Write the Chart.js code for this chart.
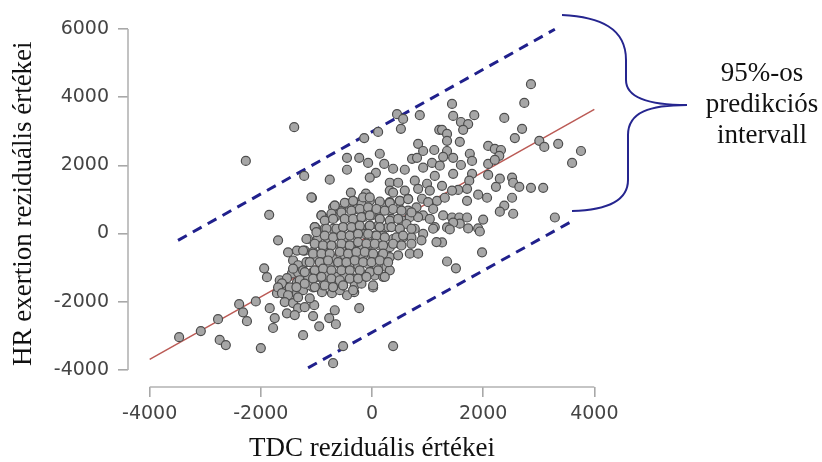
<!DOCTYPE html>
<html>
<head>
<meta charset="utf-8">
<script src="https://cdn.jsdelivr.net/npm/chart.js@4.4.1/dist/chart.umd.min.js"></script>
<style>
  html, body { margin: 0; padding: 0; background: #fff; }
  #wrap { position: relative; width: 822px; height: 462px; overflow: hidden; }
  #brace { position: absolute; left: 0; top: 0; pointer-events: none; }
  #note {
    position: absolute; left: 662px; top: 57px; width: 200px; text-align: center;
    font: 27px/31px "Liberation Serif", "Times New Roman", serif; color: #111;
  }
</style>
</head>
<body>
<div id="wrap">
  <canvas id="chart" width="822" height="462"></canvas>
  <svg id="brace" width="822" height="462">
    <path d="M562,15 C600,17 626,28 626,60 L626,80 C626,98 650,105 687,105 C650,105 628,112 628,135 L628,180 C628,200 610,210 572,211"
          fill="none" stroke="#25258f" stroke-width="2"/>
  </svg>
  <div id="note">95%-os<br>predikciós<br>intervall</div>
</div>
<script>
// residual pairs: [TDC residual, HR exertion residual]
const residuals = [
  [-3470,-3040],[-3080,-2860],[-2770,-2510],[-2740,-3120],[-2630,-3270],[-2390,-2070],
  [-2320,-2310],[-2250,-2570],[-2090,-1990],[-2000,-3360],[-1940,-1020],[-1890,-1280],
  [-1840,-2190],[-1750,-2480],[-1780,-2770],[-1690,-200],[-1530,-2340],[-1660,-1370],
  [-1620,-1580],[-1710,-1750],
  [-1510,-550],[-1350,-500],[-1420,-790],[-1330,-930],[-1440,-1170],[-1330,-1140],
  [-1530,-1310],[-1350,-1430],[-1620,-1460],[-1690,-1580],[-1480,-1580],[-1620,-1750],
  [-1510,-1810],[-1350,-1750],[-1570,-2010],[-1420,-2040],[-1330,-2190],[-1390,-2390],
  [-1400,3120],[-2270,2130],[-1850,550],
  [450,3500],[560,3360],[860,3470],[520,3070],[110,2980],[-140,2800],[1210,3040],
  [830,2630],[-450,2220],[-230,2220],[-70,2070],[140,2340],[220,2040],[-450,1870],
  [70,1780],[-40,1640],[380,1900],[590,1870],[720,2190],[810,2220],[920,2420],
  [1120,2450],[1080,2070],[920,1930],[1130,1690],[-1220,1690],[-760,1580],[-1080,1050],
  [-380,1200],[-110,1170],[320,1490],[320,1260],[470,1490],[380,1200],[590,1260],
  [770,1550],[830,1310],[990,1460],[1040,1260],[650,1020],[900,1020],[-670,820],
  [-450,880],[-270,910],[-40,960],[140,910],[230,820],[500,960],[1170,960],
  [2860,4380],[2740,3830],[1440,3800],[1840,3470],[1460,3450],[1600,3270],[1730,3210],
  [1640,3040],[2380,3390],[2700,3070],[2570,2800],[1260,3040],[1350,2920],[1350,2720],
  [1580,2690],[2090,2570],[2210,2480],[2320,2450],[2290,2280],[3010,2720],[3100,2540],
  [3350,2630],[3760,2420],[3600,2070],[1350,2420],[1280,2250],[1460,2220],[1760,2340],
  [1800,2130],[1600,2010],[2090,2040],[2210,2160],[1220,1990],[1460,1750],[1800,1750],
  [2090,1720],[2300,1610],[2520,1640],[2540,1490],[2650,1370],[2860,1340],[3080,1340],
  [2230,1370],[1750,1550],[1710,1310],[1550,1280],[1440,1260],[1260,1400],[1310,1050],
  [1910,1140],[2070,1050],[1710,960],[2520,1050],[2380,820],[2300,640],[2540,580],
  [2000,410],[3290,470],[1280,530],[1440,470],[1570,470],[1710,470],[1580,290],
  [1460,320],[1350,180],[1910,150],
  [1400,120],[1730,150],[1940,60],[1260,-260],[1980,-550],[1350,-820],[1510,-1020],
  [20,-1580],[-320,-1720],[-450,-1810],[-230,-2190],[-670,-2250],[-770,-2480],
  [-650,-2660],[-950,-2720],[-1060,-2420],[-1210,-2160],[-1040,-2100],[-1240,-2980],
  [-520,-3300],[-700,-3800],[380,-3300],
  [-1240,-1660],[-1060,-1580],[-900,-1720],[-720,-1750],[-580,-1660],[-1330,-1870],
  [-1120,-1900],
  [-190,870],[320,920],[1010,920],
  [-910,530],[-700,770],[-550,670],[-280,720],[-100,670],[80,670],[320,670],[500,720],
  [650,670],[800,770],[920,530],[1100,720],
  [-1030,190],[-820,430],[-670,480],[-490,430],[-310,380],[-160,480],[-10,530],[140,430],
  [350,430],[560,380],[680,480],[830,480],[1040,430],[1130,190],
  [-1150,-160],[-1000,140],[-850,140],[-700,140],[-520,190],[-340,190],[-190,140],
  [-40,230],[110,230],[290,190],[500,140],[770,140],[920,-10],[1100,140],
  [-970,-110],[-790,-160],[-640,-60],[-490,-110],[-280,-60],[-130,-10],[50,-60],
  [200,-60],[380,-160],[560,-110],[710,-110],[890,-200],
  [-1210,-500],[-1060,-540],[-880,-400],[-730,-350],[-550,-400],[-370,-350],[-220,-350],
  [-40,-300],[140,-350],[320,-400],[500,-300],[680,-590],[830,-590],[1160,-250],
  [-1180,-840],[-1000,-690],[-820,-640],[-700,-740],[-490,-640],[-340,-590],[-160,-640],
  [-10,-590],[170,-640],[320,-690],[470,-640],
  [-1420,-1030],[-1240,-1080],[-1060,-1130],[-910,-980],[-760,-930],[-580,-890],
  [-400,-980],[-250,-930],[-70,-890],[80,-930],[260,-980],[320,-1080],
  [-1300,-1370],[-1150,-1270],[-970,-1270],[-820,-1230],[-640,-1270],[-490,-1230],
  [-310,-1320],[-130,-1230],[50,-1230],[200,-1270],
  [-1360,-1570],[-1120,-1520],[-880,-1520],[-700,-1570],[-520,-1520],[-310,-1520],
  [-190,-1470],
  // second, closer reading of the packed core
  [-1090,1060],[-670,820],[-490,900],[-340,960],[-160,1060],[-40,1060],[140,940],
  [320,900],[500,960],[650,1010],
  [-910,530],[-730,580],[-550,620],[-370,670],[-220,720],[-70,770],[80,720],[230,670],
  [380,720],[530,670],[710,620],
  [-1030,190],[-850,380],[-700,430],[-490,430],[-340,430],[-190,480],[-40,530],
  [140,430],[320,380],[470,430],[620,280],
  [-1180,-160],[-1000,40],[-820,140],[-640,140],[-520,190],[-370,190],[-220,230],
  [-40,230],[140,190],[350,190],[500,140],[710,140],
  [-850,-60],[-700,-110],[-550,-60],[-400,-60],[-250,-10],[-70,-10],[80,-60],
  [230,-110],[440,-110],[560,-60],
  [-1030,-300],[-880,-350],[-730,-350],[-550,-300],[-400,-350],[-250,-250],[-100,-300],
  [50,-300],[200,-350],[380,-300],[530,-350],[710,-300],
  [-1240,-500],[-1060,-590],[-910,-590],[-760,-590],[-580,-540],[-430,-590],[-280,-540],
  [-130,-540],[20,-590],[200,-590],
  [-1120,-840],[-940,-840],[-790,-790],[-610,-840],[-460,-840],[-310,-790],[-160,-840],
  [-10,-840],[140,-790],[290,-840],
  [-1210,-1130],[-1030,-1080],[-880,-1030],[-730,-1080],[-550,-1080],[-400,-1080],
  [-220,-1080],[-40,-1130],[110,-1080],
  [-1060,-1320],[-910,-1270],[-730,-1320],[-580,-1370],[-400,-1320],[-250,-1320],
  [-100,-1270],[230,-1270],
  [-1210,-1470],[-1030,-1570],[-850,-1520],[-700,-1570],[-520,-1520],[-340,-1660],
  [20,-1520]
];

// fitted line and 95% prediction interval bounds (end points)
const fitX = [-4000, 4000];
const fitY = [-3690, 3640];
const upperX = [-3490, 3290];
const upperY = [-200, 5990];
const lowerX = [-1150, 3620];
const lowerY = [-3940, 380];

const xTicks = [-4000, -2000, 0, 2000, 4000];
const yTicks = [-4000, -2000, 0, 2000, 4000, 6000];

const toXY = (xs, ys) => xs.map((x, i) => ({x, y: ys[i]}));

const axisLines = {
  id: "axisLines",
  beforeDatasetsDraw(chart){
    const {ctx, chartArea} = chart;
    const x = chart.scales.x, y = chart.scales.y;
    ctx.save();
    ctx.strokeStyle = "#b3b3b3";
    ctx.lineWidth = 1.6;
    ctx.beginPath();
    ctx.moveTo(x.getPixelForValue(xTicks[0]), chartArea.bottom);
    ctx.lineTo(x.getPixelForValue(xTicks[xTicks.length - 1]), chartArea.bottom);
    ctx.moveTo(chartArea.left, y.getPixelForValue(yTicks[0]));
    ctx.lineTo(chartArea.left, y.getPixelForValue(yTicks[yTicks.length - 1]));
    ctx.stroke();
    ctx.restore();
  }
};

const titleFont = {family: "'Liberation Serif', 'Times New Roman', serif", size: 27, lineHeight: 1};
const tickFont = {family: "'DejaVu Sans', Verdana, sans-serif", size: 19};
const tickGrid = {display: true, drawOnChartArea: false, drawTicks: true, tickLength: 10, color: "#a8a8a8", lineWidth: 1.6};

new Chart(document.getElementById("chart"), {
  type: "scatter",
  data: {
    datasets: [
      {
        data: residuals.map(p => ({x: p[0], y: p[1]})),
        pointRadius: 4.5,
        pointBackgroundColor: "#a6a6a6",
        pointBorderColor: "#4d4d4d",
        pointBorderWidth: 1.2,
        order: 0
      },
      {
        data: toXY(fitX, fitY), showLine: true, pointRadius: 0,
        borderColor: "#bb5a55", borderWidth: 1.5, order: 1
      },
      {
        data: toXY(upperX, upperY), showLine: true, pointRadius: 0,
        borderColor: "#20208c", borderWidth: 3, borderDash: [10, 7], order: 1
      },
      {
        data: toXY(lowerX, lowerY), showLine: true, pointRadius: 0,
        borderColor: "#20208c", borderWidth: 3, borderDash: [10, 7], order: 1
      }
    ]
  },
  options: {
    responsive: false,
    animation: false,
    devicePixelRatio: 1,
    layout: {padding: {left: 0, right: 206, top: 19, bottom: 0}},
    plugins: {legend: {display: false}, tooltip: {enabled: false}},
    scales: {
      x: {
        type: "linear", min: -4390, max: 4390,
        afterBuildTicks: s => { s.ticks = xTicks.map(v => ({value: v})); },
        afterFit: s => { s.height = 75; },
        ticks: {font: tickFont, color: "#444", padding: 6, autoSkip: false, maxRotation: 0,
                callback: v => String(v)},
        grid: tickGrid,
        border: {display: false},
        title: {display: true, text: "TDC reziduális értékei", font: titleFont, color: "#111",
                padding: {top: 0, bottom: 0}}
      },
      y: {
        type: "linear", min: -4500, max: 6250,
        afterBuildTicks: s => { s.ticks = yTicks.map(v => ({value: v})); },
        afterFit: s => { s.width = 128; },
        ticks: {font: tickFont, color: "#444", padding: 9, autoSkip: false,
                callback: v => String(v)},
        grid: tickGrid,
        border: {display: false},
        title: {display: true, text: "HR exertion reziduális értékei", font: titleFont, color: "#111",
                padding: {top: 10, bottom: 0}}
      }
    }
  },
  plugins: [axisLines]
});
</script>
</body>
</html>
